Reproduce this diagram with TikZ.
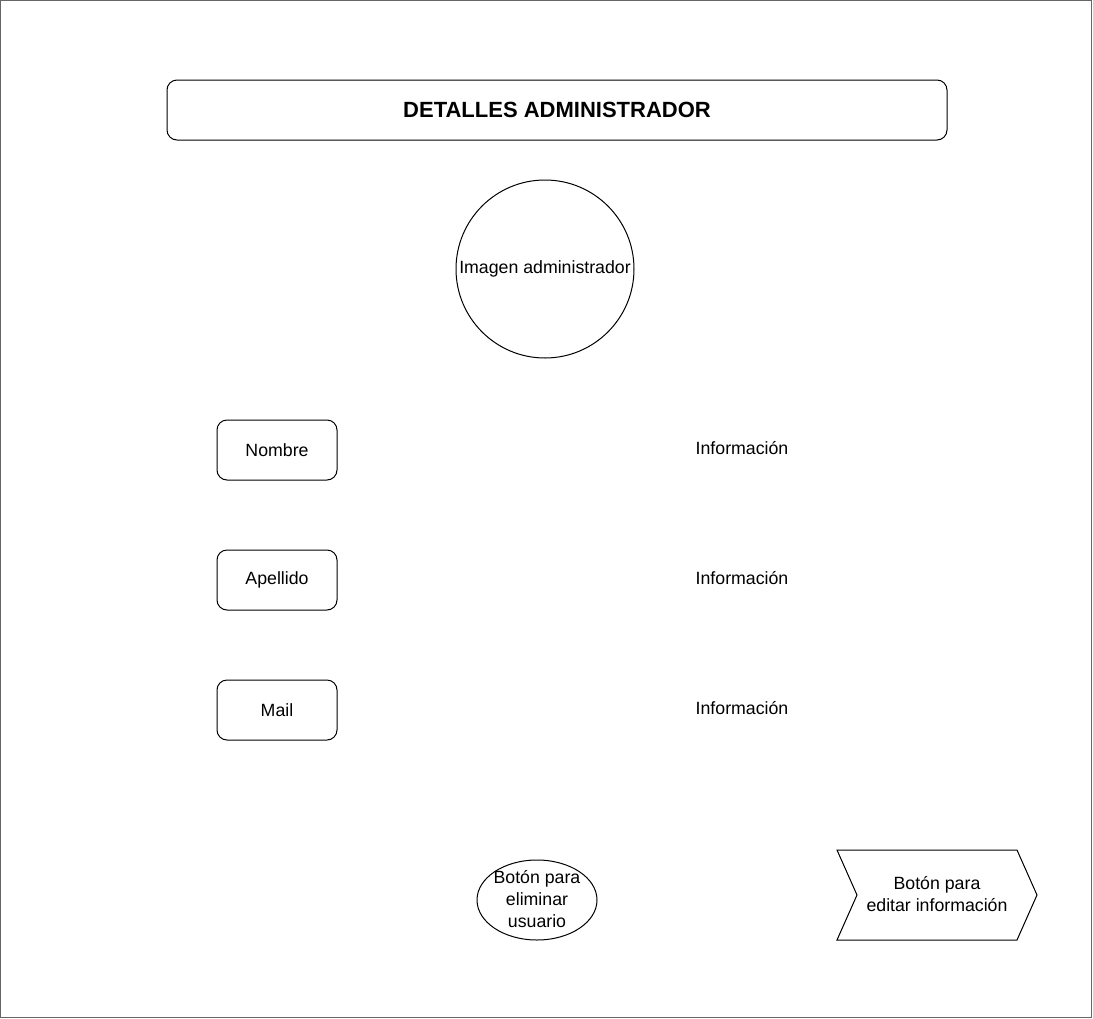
\documentclass[tikz,border=0pt]{standalone}
\usepackage{fontspec}
\setmainfont{Liberation Sans}
\usetikzlibrary{shapes.geometric}

\tikzset{every path/.style={line width=0.75pt}}
\tikzset{fieldbox/.style={draw,rounded corners=7.5pt,minimum width=90pt,minimum height=45pt,font=\fontsize{13.3}{16.5}\selectfont}}
\tikzset{infotext/.style={font=\fontsize{13.3}{16.5}\selectfont}}

\begin{document}
\begin{tikzpicture}[x=0.75pt,y=-0.75pt]
\useasboundingbox (0,0) rectangle (1093,1018);
\draw[gray!80!black] (0.5,0.5) rectangle (1091,1017);
\node[draw,rounded corners=7.5pt,minimum width=585pt,minimum height=45pt,font=\fontsize{16.5}{19}\selectfont\bfseries] (titulo) at (557,110) {DETALLES ADMINISTRADOR};
\node[draw,circle,minimum size=133.5pt,inner sep=0pt,infotext] (imagen) at (545,269) {Imagen administrador};
\node[fieldbox] (nombre) at (277,450) {Nombre};
\node[fieldbox] (apellido) at (277,580) {Apellido};
\node[fieldbox] (mail) at (277,710) {Mail};
\node[infotext] (infonombre) at (742,448) {Información};
\node[infotext] (infoapellido) at (742,578) {Información};
\node[infotext] (infomail) at (742,708) {Información};
\node[draw,ellipse,minimum width=90pt,minimum height=60pt,inner sep=0pt,infotext,align=center] (eliminar) at (537,900) {};
\node[infotext,align=center] (eliminartexto) at (537,899) {Botón para\\eliminar\\usuario};
\draw (837,850) -- (1017,850) -- (1037,895) -- (1017,940) -- (837,940) -- (857,895) -- cycle;
\node[infotext,align=center] (editar) at (937,894) {Botón para\\editar información};
\end{tikzpicture}
\end{document}
